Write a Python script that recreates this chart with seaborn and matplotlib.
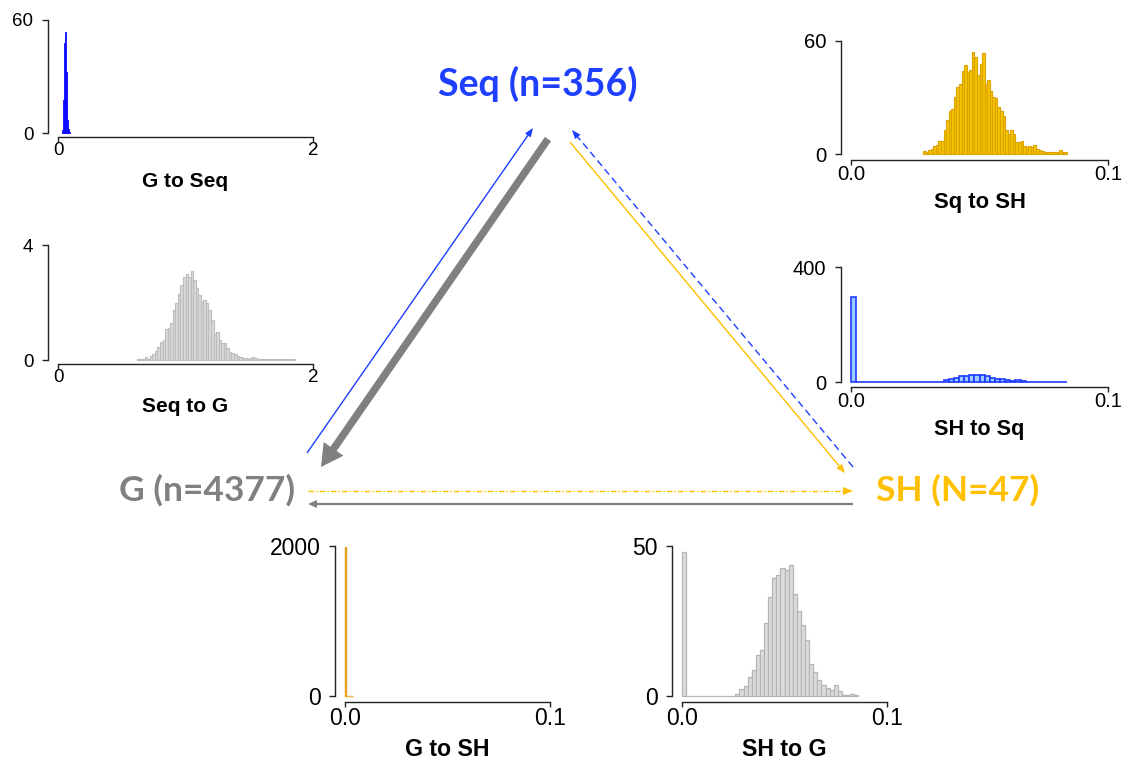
import numpy as np
import pandas as pd
import matplotlib
matplotlib.use("Agg")
import matplotlib.pyplot as plt
from matplotlib.patches import Polygon
import seaborn as sns

sns.set_theme(style="ticks")
plt.rcParams['font.family'] = ['Liberation Sans', 'DejaVu Sans']

# ---------------- data (histogram bin starts, bin widths, bar heights) ----------------
g_to_seq_start = 0.028
g_to_seq_width = 0.008
g_to_seq_heights = [1.6, 17.5, 47.6, 53.8, 32.5, 7.0, 2.0, 0.7]

seq_to_g_start = 0.62
seq_to_g_width = 0.02
seq_to_g_heights = [0.05, 0.02, 0.02, 0.09, 0.04, 0.15, 0.2, 0.3, 0.45, 0.64,
                    0.7, 1.07, 1.1, 1.3, 1.74, 1.97, 2.3, 2.6, 2.9, 3.0,
                    2.9, 3.1, 2.8, 2.5, 2.26, 2.03, 2.09, 1.97, 1.74, 1.39,
                    0.9, 0.99, 0.7, 0.58, 0.58, 0.41, 0.29, 0.26, 0.2, 0.14,
                    0.09, 0.06, 0.06, 0.05, 0.07, 0.09, 0.08, 0.05, 0.02, 0.02,
                    0.05, 0.02, 0.02, 0.02, 0.02, 0.02, 0.05, 0.02, 0.02, 0.02,
                    0.02, 0.05]

sq_to_sh_start = 0.028
sq_to_sh_width = 0.001
sq_to_sh_heights = [1.4, 0.9, 2.1, 2.7, 4.4, 4.8, 7.1, 6.7, 12.7, 18.0,
                    23.0, 23.9, 30.1, 35.4, 37.2, 44.2, 47.4, 43.4, 44.6, 54.0,
                    51.3, 41.9, 47.8, 53.5, 37.2, 39.3, 33.6, 30.1, 29.7, 24.8,
                    23.0, 20.4, 12.7, 10.6, 12.7, 10.6, 6.5, 6.2, 6.7, 4.4,
                    3.9, 4.4, 3.9, 5.0, 2.7, 2.1, 1.4, 0.9, 0.9, 0.9,
                    0.9, 0.9, 0.9, 2.1, 0.9, 0.9]

sh_to_sq_start = 0.0
sh_to_sq_width = 0.002
sh_to_sq_heights = ([295] + [0] * 14 +
                    [0.5, 0.5, 1, 8, 10, 15, 21, 22, 23, 25.5, 23, 20, 15, 11.6,
                     9, 7, 3.5, 8, 3.5, 1, 1, 1, 1] + [0] * 4)

g_to_sh_start = 0.0
g_to_sh_width = 0.0005
g_to_sh_heights = [1990, 0, 0, 0, 0, 0, 0, 0]

sh_to_g_start = 0.0
sh_to_g_width = 0.002
sh_to_g_heights = ([48] + [0] * 12 +
                   [0.8, 2.2, 3.3, 6.3, 8.6, 13.8, 15.2, 24.4, 33.0, 39.3,
                    40.2, 42.7, 41.9, 43.8, 34.1, 28.2, 23.6, 18.6, 10.8, 8.0,
                    5.2, 3.6, 2.7, 1.9, 3.6, 1.6, 0.4, 0.2, 0.8, 0.4])

node_labels = ["Seq (n=356)", "G (n=4377)", "SH (N=47)"]

# ---------------- layout ----------------
W, H = 1128, 762
fig = plt.figure(figsize=(W / 100, H / 100), dpi=100)
ax0 = fig.add_axes([0, 0, 1, 1])
ax0.set_xlim(0, W)
ax0.set_ylim(H, 0)
ax0.axis("off")

BLUE = "#1F3FFF"
GRAY = "#808080"
GOLD = "#FFC000"


def hist_panel(box, start, width, heights, xmax, ymax, xlabs, label,
               fill, edge, lw, offs, tick_fs, label_fs, label_top):
    x0, x1, ybot, ytop = box
    ax = fig.add_axes([x0 / W, 1 - ybot / H, (x1 - x0) / W, (ybot - ytop) / H])
    ax.patch.set_alpha(0)
    n = len(heights)
    edges = start + width * np.arange(n + 1)
    df = pd.DataFrame({"value": edges[:-1] + width / 2, "height": heights})
    sns.histplot(data=df, x="value", weights="height", bins=edges.tolist(), ax=ax,
                 color=fill, edgecolor=edge, linewidth=lw, alpha=1, stat="count")
    for p in ax.patches:
        p.set_clip_on(False)
    ax.set_xlim(0, xmax)
    ax.set_ylim(0, ymax)
    ax.set_xticks([0, xmax])
    ax.set_xticklabels(xlabs)
    ax.set_yticks([0, ymax])
    ax.set_yticklabels(["0", str(ymax)])
    for s in ["top", "right"]:
        ax.spines[s].set_visible(False)
    for s in ["left", "bottom"]:
        ax.spines[s].set_linewidth(1.0)
        ax.spines[s].set_color("#222222")
    ax.spines["left"].set_position(("outward", offs[0] * 0.72))
    ax.spines["bottom"].set_position(("outward", offs[1] * 0.72))
    ax.spines["left"].set_bounds(0, ymax)
    ax.spines["bottom"].set_bounds(0, xmax)
    ax.tick_params(axis="both", direction="out", width=1.0,
                   color="#222222", labelsize=tick_fs, labelcolor="black")
    ax.tick_params(axis="x", pad=0.0, length=3.6)
    ax.tick_params(axis="y", pad=6.5, length=4)
    ax.set_ylabel("")
    ax.set_xlabel(label, fontweight="bold", fontsize=label_fs, color="black")
    # place the label so its capitals start at label_top (pixels from top)
    em_px = label_fs / 72 * 100
    ax.xaxis.set_label_coords((x0 + x1) / 2, label_top - 0.19 * em_px,
                              transform=ax0.transData)
    return ax


hist_panel((58, 313, 133, 20), g_to_seq_start, g_to_seq_width, g_to_seq_heights,
           2, 60, ["0", "2"], "G to Seq", "#0A0AFF", "#0A0AFF", 0.6, (10, 4),
           13.5, 15, 176)
hist_panel((58, 313, 360, 245), seq_to_g_start, seq_to_g_width, seq_to_g_heights,
           2, 4, ["0", "2"], "Seq to G", "#D9D9D9", "#BDBDBD", 0.8, (10, 4),
           13.5, 15, 401)
hist_panel((851, 1108, 154, 41), sq_to_sh_start, sq_to_sh_width, sq_to_sh_heights,
           0.1, 60, ["0.0", "0.1"], "Sq to SH", "#F5C400", "#DBA200", 0.8, (10, 6),
           14.7, 15.8, 196)
hist_panel((851, 1108, 382, 267), sh_to_sq_start, sh_to_sq_width, sh_to_sq_heights,
           0.1, 400, ["0.0", "0.1"], "SH to Sq", "#9CCBFF", "#1E3CFF", 1.2, (10, 5),
           14.5, 15.6, 423)
hist_panel((345, 550, 696, 546), g_to_sh_start, g_to_sh_width, g_to_sh_heights,
           0.1, 2000, ["0.0", "0.1"], "G to SH", "#E3A21A", "#E3A21A", 1.0, (10, 6),
           16.5, 16.7, 742)
hist_panel((682, 887, 696, 546), sh_to_g_start, sh_to_g_width, sh_to_g_heights,
           0.1, 50, ["0.0", "0.1"], "SH to G", "#DCDCDC", "#B5B5B5", 0.9, (10, 6),
           16.5, 16.7, 742)

# ---------------- node labels ----------------
label_font = dict(family=["Lato", "DejaVu Sans"], fontweight="bold",
                  ha="center", va="center")
ax0.text(538, 84, node_labels[0], color=BLUE, fontsize=27, **label_font)
ax0.text(207, 490, node_labels[1], color=GRAY, fontsize=25.5, **label_font)
ax0.text(958, 490, node_labels[2], color=GOLD, fontsize=25.5, **label_font)


# ---------------- migration arrows ----------------
def draw_arrow(tail, tip, color, lw_px, ls, head_len, head_w):
    tail = np.array(tail, float)
    tip = np.array(tip, float)
    d = tip - tail
    u = d / np.hypot(*d)
    perp = np.array([-u[1], u[0]])
    base = tip - u * head_len
    end = base + u * 1.0
    ax0.plot([tail[0], end[0]], [tail[1], end[1]], color=color, lw=lw_px * 0.72,
             ls=ls, solid_capstyle="butt", dash_capstyle="butt")
    ax0.add_patch(Polygon([tip, base + perp * head_w / 2, base - perp * head_w / 2],
                          closed=True, facecolor=color, edgecolor="none"))


draw_arrow((307, 453), (533, 128), BLUE, 1.4, "-", 9, 7)                 # G -> Seq
draw_arrow((548, 139), (321, 467), GRAY, 7.5, "-", 22, 24)               # Seq -> G
draw_arrow((570, 142), (845, 473), GOLD, 1.4, "-", 9, 7)                 # Seq -> SH
draw_arrow((853, 467), (572, 130), BLUE, 1.4, (0, (5, 3)), 9, 7)         # SH -> Seq
draw_arrow((308, 491), (853, 491), GOLD, 1.4, (0, (4, 1.5, 1, 1.5)), 10, 8)  # G -> SH
draw_arrow((853, 504), (308, 504), GRAY, 2.2, "-", 9, 8)                 # SH -> G

fig.savefig("out.png", dpi=100)
